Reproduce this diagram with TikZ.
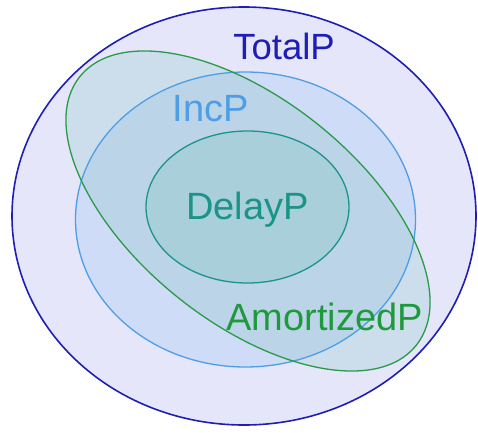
\documentclass[tikz,border=0pt]{standalone}
\usepackage{fontspec}
\setmainfont{Liberation Sans}
\begin{document}
\begin{tikzpicture}[x=1pt,y=1pt,
  lbl/.style={anchor=base,inner sep=0pt,font=\fontsize{38}{40}\selectfont},
  ring/.style={line width=1.3pt}]
\definecolor{totalfill}{HTML}{E6E6FB}
\definecolor{totalline}{HTML}{1E1EB4}
\definecolor{incfill}{HTML}{CFDCF8}
\definecolor{incline}{HTML}{4E9EE6}
\definecolor{amfill}{HTML}{CCDEEB}
\definecolor{bothfill}{HTML}{BCD4E8}
\definecolor{amline}{HTML}{2A9A48}
\definecolor{delayfill}{HTML}{A9CFDB}
\definecolor{delayline}{HTML}{1A9488}
\definecolor{amtext}{HTML}{1E9A3C}
\useasboundingbox (0,0) rectangle (478,432);
% TotalP
\fill[totalfill] (244,216) ellipse [x radius=232pt, y radius=209pt];
% IncP
\fill[incfill] (245.5,212.5) ellipse [x radius=170pt, y radius=147.5pt];
% AmortizedP (tilted)
\fill[amfill, rotate around={-38.6:(248,221)}] (248,221) ellipse [x radius=215.3pt, y radius=111.3pt];
\begin{scope}
  \clip (245.5,212.5) ellipse [x radius=170pt, y radius=147.5pt];
  \fill[bothfill, rotate around={-38.6:(248,221)}] (248,221) ellipse [x radius=215.3pt, y radius=111.3pt];
\end{scope}
% DelayP
\fill[delayfill] (247.5,225) ellipse [x radius=101.5pt, y radius=76pt];
% outlines
\draw[ring, totalline, line width=1.6pt] (244,216) ellipse [x radius=232pt, y radius=209pt];
\draw[ring, incline] (245.5,212.5) ellipse [x radius=170pt, y radius=147.5pt];
\draw[ring, amline, rotate around={-38.6:(248,221)}] (248,221) ellipse [x radius=215.3pt, y radius=111.3pt];
\draw[ring, delayline] (247.5,225) ellipse [x radius=101.5pt, y radius=76pt];
% labels
\node[lbl, text=totalline, font=\fontsize{36.5}{40}\selectfont] (total) at (284,372) {TotalP};
\node[lbl, text=incline] (inc) at (211,311) {IncP};
\node[lbl, text=delayline] (delay) at (247.5,213) {DelayP};
\node[lbl, text=amtext] (amort) at (324.5,102) {AmortizedP};
\end{tikzpicture}
\end{document}
